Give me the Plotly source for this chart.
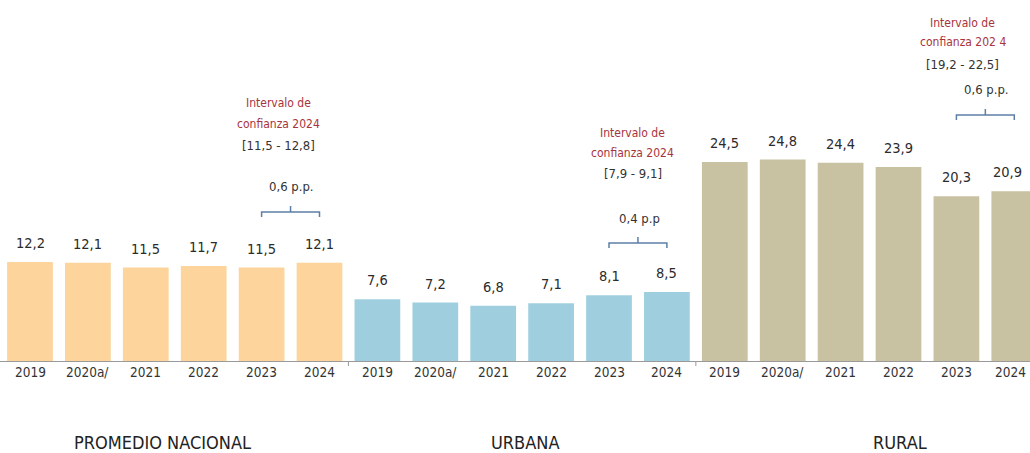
import plotly.graph_objects as go

# --- data -------------------------------------------------------------
years = ["2019", "2020a/", "2021", "2022", "2023", "2024"]
groups = ["PROMEDIO NACIONAL", "URBANA", "RURAL"]
nacional = [12.2, 12.1, 11.5, 11.7, 11.5, 12.1]
urbana = [7.6, 7.2, 6.8, 7.1, 8.1, 8.5]
rural = [24.5, 24.8, 24.4, 23.9, 20.3, 20.9]
ci_title = ["confianza 2024", "confianza 2024", "confianza 202 4"]
ci_range = ["[11,5 - 12,8]", "[7,9 - 9,1]", "[19,2 - 22,5]"]
diff_text = ["0,6 p.p.", "0,4 p.p", "0,6 p.p."]

series = [nacional, urbana, rural]
colors = ["#FCD49C", "#9FCFDF", "#C8C1A2"]

# --- geometry helpers (plot area: top 361 px, no side margins) -------
PLOT_H = 361
STEP = 57.9          # pixels per category
FONT = "Liberation Sans Narrow, DejaVu Sans Condensed, Arial Narrow, sans-serif"


def py(pixel_y):
    """Pixel row (from top of page) -> paper y coordinate."""
    return (PLOT_H - pixel_y) / PLOT_H


fig = go.Figure()
n = len(years)
last = 3 * n - 1
for g, vals in enumerate(series):
    xs = [g * n + i for i in range(n)]
    fig.add_trace(go.Bar(
        x=xs, y=vals, marker=dict(color=colors[g], line=dict(width=0)),
        hoverinfo="skip", showlegend=False,
    ))
    for x, v, yr in zip(xs, vals, years):
        edge = -7 if x == last else 0
        fig.add_annotation(
            x=x, y=v, xref="x", yref="y", yanchor="middle", yshift=19, xshift=edge,
            text=f"{v:.1f}".replace(".", ","), showarrow=False,
            font=dict(family=FONT, size=14.5, color="#2b2b2b"),
        )
        # category label under the baseline
        fig.add_annotation(
            x=x, y=py(372), xref="x", yref="paper", yanchor="middle", xshift=edge / 2,
            text=yr, showarrow=False,
            font=dict(family=FONT, size=13.5, color="#333333"),
        )

# confidence interval notes and brackets over the 2023-2024 pair
note_rows = [(103, 124, 145, 186, 212), (133, 153, 174, 218, 243), (23, 42, 65, 90, 115)]
note_x = [4.29, 10.41, 16.11]
for g in range(3):
    r1, r2, r3, rpp, rb = note_rows[g]
    a = g * n + 4
    b = g * n + 5
    mid = (a + b) / 2
    for text, row, col in [("Intervalo de", r1, "#A8333C"), (ci_title[g], r2, "#A8333C"),
                           (ci_range[g], r3, "#333333")]:
        fig.add_annotation(
            x=note_x[g], y=py(row), xref="x", yref="paper", yanchor="middle",
            text=text, showarrow=False,
            font=dict(family=FONT, size=12 if col != "#333333" else 13, color=col),
        )
    fig.add_annotation(
        x=mid + 0.02, y=py(rpp), xref="x", yref="paper", yanchor="middle",
        text=diff_text[g], showarrow=False,
        font=dict(family=FONT, size=13, color="#333333"),
    )
    yl, yt, ym = py(rb), py(rb + 5), py(rb - 6)
    fig.add_shape(
        type="path", xref="x", yref="paper",
        path=f"M {a},{yt} L {a},{yl} L {b},{yl} L {b},{yt} M {mid},{yl} L {mid},{ym}",
        line=dict(color="#5C7FA6", width=1.5),
    )

# separators between groups on the baseline
for s in (n - 0.5, 2 * n - 0.5):
    fig.add_shape(type="line", xref="x", yref="paper", x0=s, x1=s, y0=0, y1=py(366),
                  line=dict(color="#9a9a9a", width=1))

# group titles under the axis
group_x = [2.28, 8.55, 15.03]
for g, name in enumerate(groups):
    fig.add_annotation(
        x=group_x[g], y=py(442), xref="x", yref="paper", yanchor="middle",
        text=name, showarrow=False,
        font=dict(family=FONT, size=18, color="#222222"),
    )

fig.update_layout(
    width=1030, height=453,
    margin=dict(l=0, r=0, t=0, b=453 - PLOT_H),
    paper_bgcolor="white", plot_bgcolor="white",
    bargap=0.21,
    xaxis=dict(
        range=[-30 / STEP, 1000 / STEP],
        showticklabels=False,
        showgrid=False, zeroline=False, ticks="",
        showline=True, linecolor="#9a9a9a", linewidth=1,
    ),
    yaxis=dict(range=[0, PLOT_H / 8.12], visible=False, showgrid=False),
)

fig.write_html("out.html")
